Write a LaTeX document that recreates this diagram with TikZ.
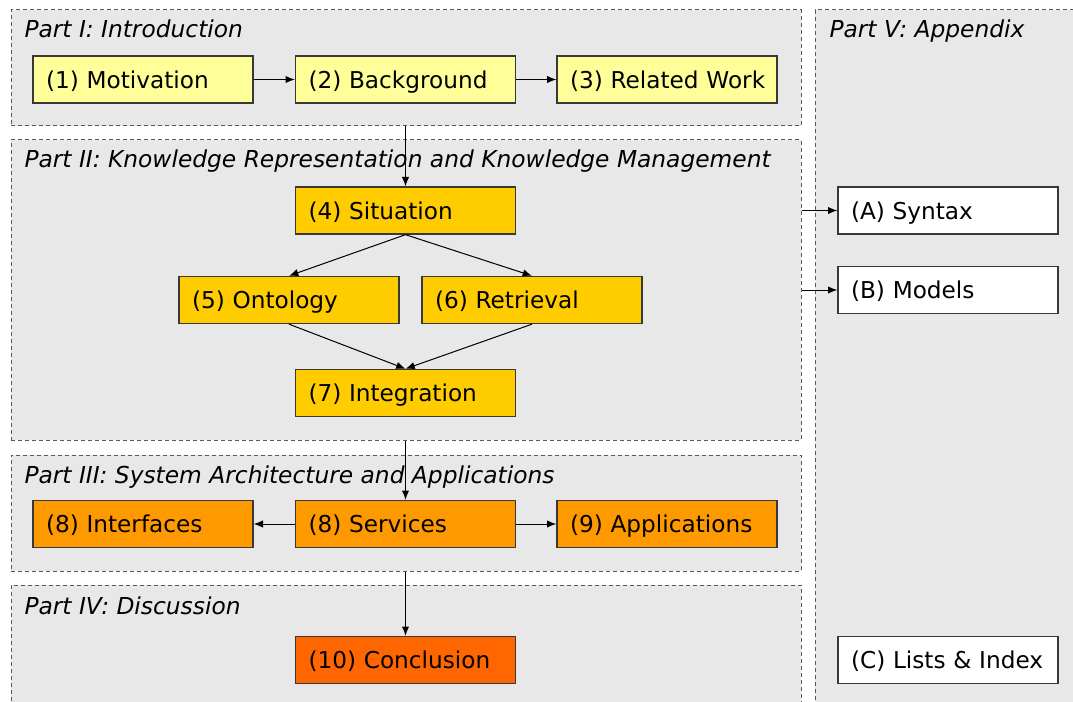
\documentclass[tikz,border=0pt]{standalone}
\usepackage{fontspec}
\setmainfont{DejaVu Sans}
\usetikzlibrary{arrows.meta,positioning}

\definecolor{panelgray}{HTML}{E8E8E8}
\definecolor{chapI}{HTML}{FFFF99}
\definecolor{chapII}{HTML}{FFCC00}
\definecolor{chapIII}{HTML}{FF9900}
\definecolor{chapIV}{HTML}{FF6600}
\definecolor{rimgray}{HTML}{383838}

\tikzset{
  chapter/.style={rectangle,draw=rimgray,line width=1pt,text width=145.5pt,
    inner xsep=9.75pt,minimum height=35.25pt,align=left,
    text height=13pt,text depth=0pt,
    execute at begin node=\leavevmode\hbox\bgroup,
    execute at end node=\egroup,
    font=\fontsize{17.4}{20}\selectfont},
  part/.style={rectangle,draw=black!65,fill=panelgray,line width=0.75pt,
    dash pattern=on 3pt off 2.25pt,inner sep=0pt},
  partlabel/.style={anchor=base west,inner sep=0pt,
    font=\fontsize{17.5}{20}\selectfont\itshape},
}

\begin{document}
\begin{tikzpicture}[x=0.75pt,y=-0.75pt,->,>={Latex[length=7pt,width=5.5pt]},
    line width=0.75pt]
  \clip (0,0) rectangle (1073,702);
  % parts
  \node[part,minimum width=592.5pt,minimum height=87pt] (p1) at (406,68) {};
  \node[part,minimum width=592.5pt,minimum height=225pt] (p2) at (406,290) {};
  \node[part,minimum width=592.5pt,minimum height=87pt] (p3) at (406,513) {};
  \node[part,minimum width=592.5pt,minimum height=101.25pt] (p4) at (406,652.5) {};
  \node[part,minimum width=206.25pt,minimum height=532.5pt] (p5) at (952.5,365) {};
  \node[partlabel] (l1) at (24,38) {Part I: Introduction};
  \node[partlabel] (l2) at (24,168) {Part II: Knowledge Representation and Knowledge Management};
  \node[partlabel] (l3) at (24,483) {Part III: System Architecture and Applications};
  \node[partlabel] (l4) at (24,614) {Part IV: Discussion};
  \node[partlabel] (l5) at (829,38) {Part V: Appendix};

  % chapters
  \node[chapter,fill=chapI] (mot) at (143,79.5) {(1) Motivation};
  \node[chapter,fill=chapI] (bg) at (405.5,79.5) {(2) Background};
  \node[chapter,fill=chapI] (rw) at (667,79.5) {(3) Related Work};
  \node[chapter,fill=chapII] (sit) at (405.5,210.5) {(4) Situation};
  \node[chapter,fill=chapII] (ont) at (289,300) {(5) Ontology};
  \node[chapter,fill=chapII] (ret) at (532,300) {(6) Retrieval};
  \node[chapter,fill=chapII] (int) at (405.5,393) {(7) Integration};
  \node[chapter,fill=chapIII] (ifc) at (143,524) {(8) Interfaces};
  \node[chapter,fill=chapIII] (srv) at (405.5,524) {(8) Services};
  \node[chapter,fill=chapIII] (app) at (667,524) {(9) Applications};
  \node[chapter,fill=chapIV] (con) at (405.5,660) {(10) Conclusion};
  \node[chapter,fill=white] (syn) at (948,210.5) {(A) Syntax};
  \node[chapter,fill=white] (mod) at (948,290) {(B) Models};
  \node[chapter,fill=white] (lst) at (948,660) {(C) Lists \& Index};

  \path
    (mot) edge (bg)
    (bg) edge (rw)
    (sit |- p1.south) edge (sit)
    (sit.south) edge (ont.north)
    (sit.south) edge (ret.north)
    (ont.south) edge (int.north)
    (ret.south) edge (int.north)
    (srv |- p2.south) edge (srv)
    (srv) edge (ifc)
    (srv) edge (app)
    (con |- p3.south) edge (con)
    (p2.east |- syn) edge (syn)
    (p2.east |- mod) edge (mod);
\end{tikzpicture}
\end{document}
